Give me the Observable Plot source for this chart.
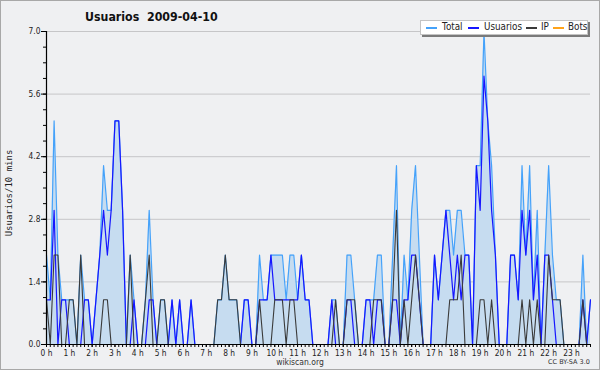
<!DOCTYPE html>
<html><head><meta charset="utf-8">
<script src="https://cdn.jsdelivr.net/npm/d3@7"></script>
<script src="https://cdn.jsdelivr.net/npm/@observablehq/plot@0.6"></script>
<style>
body{margin:0;background:#fff;}
#wrap{position:relative;width:600px;height:370px;background:#eff0f2;overflow:hidden;font-family:"DejaVu Sans",sans-serif;}
#chart{position:absolute;left:0;top:0;}
#border{position:absolute;left:0;top:0;width:600px;height:370px;box-sizing:border-box;border:1px solid #a8a8a8;pointer-events:none;}
#title{position:absolute;left:85px;top:9px;font:bold 13px "DejaVu Sans",sans-serif;color:#111;white-space:pre;transform:scaleX(0.85);transform-origin:0 0;line-height:16px;}
#ylab{position:absolute;left:4px;top:193px;transform-origin:0 0;transform:rotate(-90deg) translate(-50%,0);font:9px "DejaVu Sans Mono",monospace;color:#222;white-space:nowrap;line-height:10px;}
#legend{position:absolute;left:420px;top:20px;width:166px;height:13px;background:#fff;border:1px solid #c4c4c4;box-shadow:2px 2px 0 #7a7a7a;}
.sw{position:absolute;top:27px;height:1.6px;width:11px;}
.lt{position:absolute;top:21px;font:10px "DejaVu Sans",sans-serif;color:#222;line-height:12px;white-space:nowrap;transform:scaleX(0.88);transform-origin:0 0;}
#foot{position:absolute;left:300px;top:358px;font:8.5px "DejaVu Sans",sans-serif;color:#333;line-height:9px;transform:translateX(-50%) scaleX(0.9);white-space:nowrap;}
#cc{position:absolute;left:548px;top:359px;font:6.5px "DejaVu Sans",sans-serif;color:#333;line-height:7px;white-space:nowrap;}
</style></head>
<body>
<div id="wrap">
<div id="chart"></div>
<div id="title">Usuarios  2009-04-10</div>
<div id="ylab">Usuarios/10 mins</div>
<div id="legend"></div>
<div id="foot">wikiscan.org</div>
<div id="cc">CC BY-SA 3.0</div>
<div id="border"></div>
</div>
<script>
// values per 10-minute slot, 00:00 .. 23:50
const usuarios = [1,1,3,0,1,1,0,0,0,0, 1,1,0,1,2,3,2,3,5,5, 3,0,0,1,0,0,0,1,1,0, 0,0,0,1,0,1,0,0,1,0, 0,0,0,0,0,0,0,0,0,0, 0,0,1,1,0,0,1,1,1,2, 1,1,1,1,1,1,1,2,1,1, 0,0,0,0,0,1,0,0,0,1, 1,0,0,0,1,1,0,1,1,0, 0,1,1,0,1,1,2,2,1,0, 0,0,2,1,2,3,2,1,2,1, 2,2,0,4,3,6,5,3,2,0, 0,0,2,2,1,3,2,3,1,2, 0,2,2,1,0,0,0,0,0,0, 0,1,0,1];
const ip = [1,0,2,2,0,0,1,1,0,2, 0,0,0,0,0,1,1,0,0,0, 0,0,2,0,0,0,1,2,0,0, 1,1,0,0,0,0,0,0,0,0, 0,0,0,0,0,1,1,2,1,1, 1,0,0,0,0,0,1,0,0,0, 1,1,1,0,1,1,0,0,0,0, 0,0,0,0,0,0,1,0,0,1, 1,1,0,0,0,0,1,1,1,0, 0,1,3,0,1,0,1,2,1,0, 0,0,0,0,0,0,1,1,1,2, 0,0,0,0,1,1,0,1,0,0, 0,0,0,0,0,1,0,1,0,1, 0,0,2,1,1,1,0,0,0,0, 0,1,0,0];
const total = [2,1,5,2,1,1,1,1,0,2, 1,1,0,1,2,4,3,3,5,5, 3,0,2,1,0,0,1,3,1,0, 1,1,0,1,0,1,0,0,1,0, 0,0,0,0,0,1,1,2,1,1, 1,0,1,1,0,0,2,1,1,2, 2,2,2,1,2,2,1,2,1,1, 0,0,0,0,0,1,1,0,0,2, 2,1,0,0,1,1,1,2,2,0, 0,2,4,0,2,1,3,4,2,0, 0,0,2,1,2,3,3,2,3,3, 2,2,0,4,4,7,5,4,2,0, 0,0,2,2,1,4,2,4,1,3, 0,2,4,2,1,1,0,0,0,0, 0,2,0,1];
const bots = [0,0,0,0,0,0,0,0,0,0, 0,0,0,0,0,0,0,0,0,0, 0,0,0,0,0,0,0,0,0,0, 0,0,0,0,0,0,0,0,0,0, 0,0,0,0,0,0,0,0,0,0, 0,0,0,0,0,0,0,0,0,0, 0,0,0,0,0,0,0,0,0,0, 0,0,0,0,0,0,0,0,0,0, 0,0,0,0,0,0,0,0,0,0, 0,0,0,0,0,0,0,0,0,0, 0,0,0,0,0,0,0,0,0,0, 0,0,0,0,0,0,0,0,0,0, 0,0,0,0,0,0,0,0,0,0, 0,0,0,0,0,0,0,0,0,0, 0,0,0,0];
const yTicks = [0, 1.4, 2.8, 4.2, 5.6, 7.0];
const hourTicks = [0,1,2,3,4,5,6,7,8,9,10,11,12,13,14,15,16,17,18,19,20,21,22,23];
const seriesNames = ["Total", "Usuarios", "IP", "Bots"];
const seriesColors = ["#45a2fa", "#1616ff", "#3a3a3a", "#ffa31a"];

const rows = total.map((t, i) => ({h: i / 6, total: t, usuarios: usuarios[i], ip: ip[i], bots: bots[i]}));
const minorY = d3.range(0, 7.001, 0.35);
const minorX = rows.map(d => d.h);

const chart = Plot.plot({
  width: 600, height: 370,
  marginLeft: 46, marginRight: 10, marginTop: 31, marginBottom: 26,
  style: {background: "transparent", fontFamily: "DejaVu Sans, sans-serif", fontSize: "8.5px", color: "#222", overflow: "visible"},
  x: {domain: [0, 143 / 6]},
  y: {domain: [0, 7]},
  marks: [
    Plot.gridY(yTicks, {stroke: "#c6c6c8", strokeOpacity: 1}),
    Plot.areaY(rows, {x: "h", y: "total", fill: "#c6dcf0"}),
    Plot.lineY(rows, {x: "h", y: "bots", stroke: seriesColors[3], strokeWidth: 1}),
    Plot.lineY(rows, {x: "h", y: "total", stroke: seriesColors[0], strokeWidth: 1.2}),
    Plot.lineY(rows, {x: "h", y: "usuarios", stroke: seriesColors[1], strokeWidth: 1.2}),
    Plot.lineY(rows, {x: "h", y: "ip", stroke: seriesColors[2], strokeWidth: 1.1}),
    Plot.axisY(minorY, {tickSize: 3, tickFormat: () => "", label: null, stroke: "#000"}),
    Plot.axisY(yTicks, {tickSize: 5, tickPadding: 1, tickFormat: d => d.toFixed(1), label: null, stroke: "#000", fill: "#222"}),
    Plot.axisX(minorX, {tickSize: 3, tickFormat: () => "", label: null, stroke: "#000"}),
    Plot.axisX(hourTicks, {tickSize: 3, tickPadding: 2, tickFormat: d => d + " h", label: null, stroke: "#000", fill: "#222"}),
    Plot.ruleX([0], {stroke: "#000", strokeWidth: 1.2}),
    Plot.ruleY([0], {stroke: "#000", strokeWidth: 1.2})
  ]
});
document.getElementById("chart").appendChild(chart);
// narrow the tick label glyphs a little, as in the reference
chart.querySelectorAll("text").forEach(t => {
  const tr = t.getAttribute("transform");
  if (tr && t.textContent.trim() !== "") t.setAttribute("transform", tr + " scale(0.88,1)");
});

const wrap = document.getElementById("wrap");
const before = document.getElementById("foot");
const swX = [426, 468, 526, 553];
const txX = [442, 484, 541, 568];
seriesNames.forEach((n, k) => {
  const sw = document.createElement("div");
  sw.className = "sw";
  sw.style.left = swX[k] + "px";
  sw.style.backgroundColor = seriesColors[k];
  wrap.insertBefore(sw, before);
  const tx = document.createElement("div");
  tx.className = "lt";
  tx.style.left = txX[k] + "px";
  tx.textContent = n;
  wrap.insertBefore(tx, before);
});
</script>
</body></html>
